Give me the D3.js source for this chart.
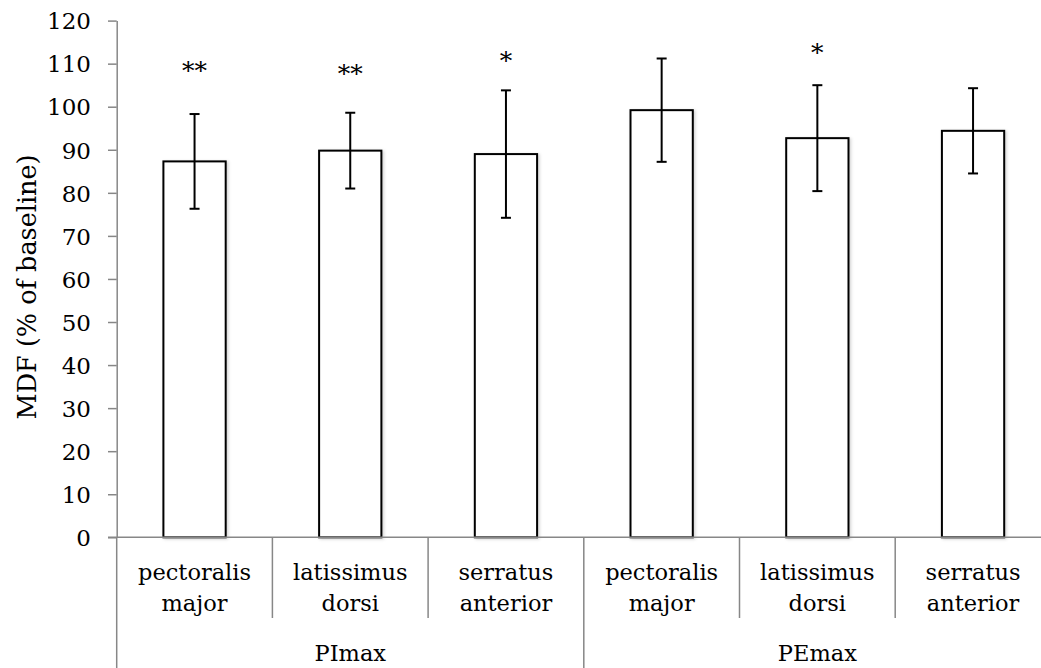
<!DOCTYPE html>
<html>
<head>
<meta charset="utf-8">
<script src="https://cdn.jsdelivr.net/npm/d3@7"></script>
<style>
  html, body { margin: 0; padding: 0; background: #fff; }
  svg { display: block; }
  text { font-family: "DejaVu Serif", "Liberation Serif", serif; fill: #000; }
</style>
</head>
<body>
<svg id="chart" width="1041" height="668"></svg>
<script>
// ---- data ----
const muscles = ["pectoralis major", "latissimus dorsi", "serratus anterior",
                 "pectoralis major", "latissimus dorsi", "serratus anterior"];
const groups = ["PImax", "PImax", "PImax", "PEmax", "PEmax", "PEmax"];
const groupNames = ["PImax", "PEmax"];
const means = [87.3, 89.8, 89.0, 99.2, 92.7, 94.4];
const errors = [11.0, 8.8, 14.8, 12.0, 12.3, 9.9];
const signif = ["**", "**", "*", "", "*", ""];
const signifLevel = [109.7, 109.0, 112.0, null, 113.9, null];
const yTicks = [0, 10, 20, 30, 40, 50, 60, 70, 80, 90, 100, 110, 120];
const yTitle = "MDF (% of baseline)";

// ---- layout ----
const svg = d3.select("#chart");
const plotLeft = 116.7, step = 155.7, plotTop = 20.6, plotBottom = 537.3;
const ids = muscles.map((d, i) => i);
const x = d3.scaleBand().domain(ids).range([plotLeft, plotLeft + step * ids.length])
  .paddingInner(0.6).paddingOuter(0.3);
const xc = d3.scaleBand().domain(ids).range([plotLeft, plotLeft + step * ids.length]).padding(0);
const y = d3.scaleLinear().domain([0, 120]).range([plotBottom, plotTop]);
const axisColor = "#878787";
const fsTick = 23, fsLab = 22.5, fsTitle = 25.5, fsStar = 25;

const defs = svg.append("defs");
const f = defs.append("filter").attr("id", "sh").attr("x", "-20%").attr("y", "-5%")
  .attr("width", "140%").attr("height", "110%");
f.append("feDropShadow").attr("dx", 1.5).attr("dy", 1).attr("stdDeviation", 1.5)
  .attr("flood-color", "#000").attr("flood-opacity", 0.18);

// bars
svg.append("g").selectAll("rect").data(ids).join("rect")
  .attr("x", i => x(i))
  .attr("y", i => y(means[i]))
  .attr("width", x.bandwidth())
  .attr("height", i => y(0) - y(means[i]))
  .attr("fill", "#fff")
  .attr("stroke", "#000")
  .attr("stroke-width", 2)
  .attr("filter", "url(#sh)");

// error bars
const eg = svg.append("g").attr("stroke", "#000").attr("stroke-width", 2);
ids.forEach(i => {
  const cx = x(i) + x.bandwidth() / 2;
  const hi = y(means[i] + errors[i]), lo = y(means[i] - errors[i]);
  eg.append("line").attr("x1", cx).attr("x2", cx).attr("y1", hi).attr("y2", lo);
  eg.append("line").attr("x1", cx - 5).attr("x2", cx + 5).attr("y1", hi).attr("y2", hi);
  eg.append("line").attr("x1", cx - 5).attr("x2", cx + 5).attr("y1", lo).attr("y2", lo);
});

// significance marks
svg.append("g").selectAll("text").data(ids.filter(i => signif[i])).join("text")
  .attr("x", i => x(i) + x.bandwidth() / 2)
  .attr("y", i => y(signifLevel[i]) + 14)
  .attr("text-anchor", "middle")
  .style("font-size", fsStar + "px")
  .text(i => signif[i]);

// y axis
const yAxis = d3.axisLeft(y).tickValues(yTicks).tickSize(8.7).tickPadding(17).tickSizeOuter(0);
const yg = svg.append("g").attr("transform", `translate(${plotLeft},0)`).call(yAxis);
yg.select(".domain").attr("stroke", axisColor).attr("stroke-width", 1.5);
yg.selectAll(".tick line").attr("stroke", axisColor).attr("stroke-width", 1.5);
yg.selectAll(".tick text").style("font-size", fsTick + "px")
  .style("font-family", '"DejaVu Serif", serif').attr("fill", "#000").attr("dy", "0.36em");

// x axis line
svg.append("line").attr("x1", plotLeft - 8.7).attr("x2", plotLeft + step * ids.length)
  .attr("y1", y(0)).attr("y2", y(0))
  .attr("stroke", axisColor).attr("stroke-width", 1.5);

// category separators
const sepG = svg.append("g").attr("stroke", axisColor).attr("stroke-width", 1.5);
const boundaries = d3.range(ids.length + 1).map(k => plotLeft + step * k);
boundaries.forEach((bx, k) => {
  const isGroup = k === 0 || k === ids.length || groups[k] !== groups[k - 1];
  sepG.append("line").attr("x1", bx).attr("x2", bx)
    .attr("y1", y(0)).attr("y2", isGroup ? 668 : 618);
});

// category labels
const lab = svg.append("g").style("font-size", fsLab + "px").attr("text-anchor", "middle");
ids.forEach(i => {
  const words = muscles[i].split(" ");
  const t = lab.append("text").attr("x", xc(i) + xc.bandwidth() / 2).attr("y", 580);
  words.forEach((w, j) => t.append("tspan")
    .attr("x", xc(i) + xc.bandwidth() / 2).attr("dy", j === 0 ? 0 : 31).text(w));
});

// group labels
groupNames.forEach(g => {
  const members = ids.filter(i => groups[i] === g);
  const gx = (xc(members[0]) + xc(members[members.length - 1]) + xc.bandwidth()) / 2;
  lab.append("text").attr("x", gx).attr("y", 661).text(g);
});

// y title
svg.append("text")
  .attr("transform", `translate(36, ${(plotTop + plotBottom) / 2 + 8}) rotate(-90)`)
  .attr("text-anchor", "middle")
  .style("font-size", fsTitle + "px")
  .text(yTitle);
</script>
</body>
</html>
